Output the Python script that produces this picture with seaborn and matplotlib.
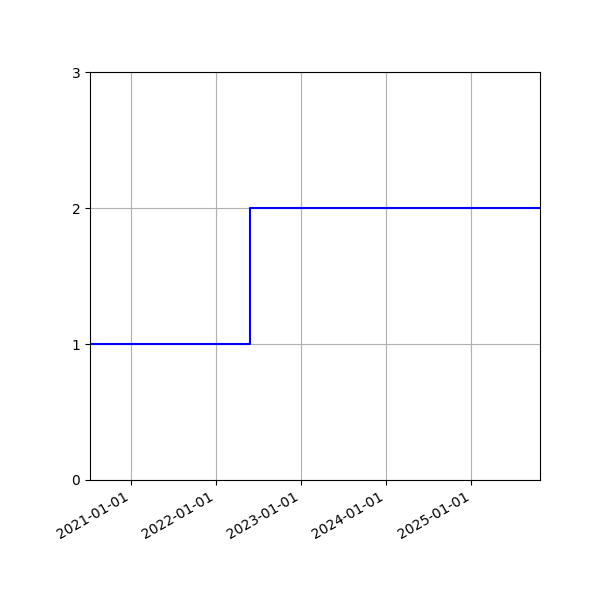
import matplotlib
matplotlib.use("Agg")
import matplotlib.dates as mdates
import matplotlib.pyplot as plt
import pandas as pd
import seaborn as sns

# step series: value changes at each date
dates = ["2020-07-08", "2022-05-26", "2025-10-23"]
values = [1, 2, 2]

df = pd.DataFrame({"date": pd.to_datetime(dates), "value": values})

fig, ax = plt.subplots(figsize=(6, 6), dpi=100)
sns.lineplot(data=df, x="date", y="value", drawstyle="steps-post",
             color="blue", linewidth=1.5, ax=ax)

ax.set_xlim(df["date"].iloc[0], df["date"].iloc[-1])
ax.set_ylim(0, 3)
ax.set_yticks([0, 1, 2, 3])
ax.xaxis.set_major_locator(mdates.YearLocator())
ax.xaxis.set_major_formatter(mdates.DateFormatter("%Y-%m-%d"))
ax.set_xlabel("")
ax.set_ylabel("")
ax.grid(True)

fig.autofmt_xdate()
fig.subplots_adjust(left=0.15, right=0.9, top=0.88, bottom=0.2)
fig.savefig("out.png")
